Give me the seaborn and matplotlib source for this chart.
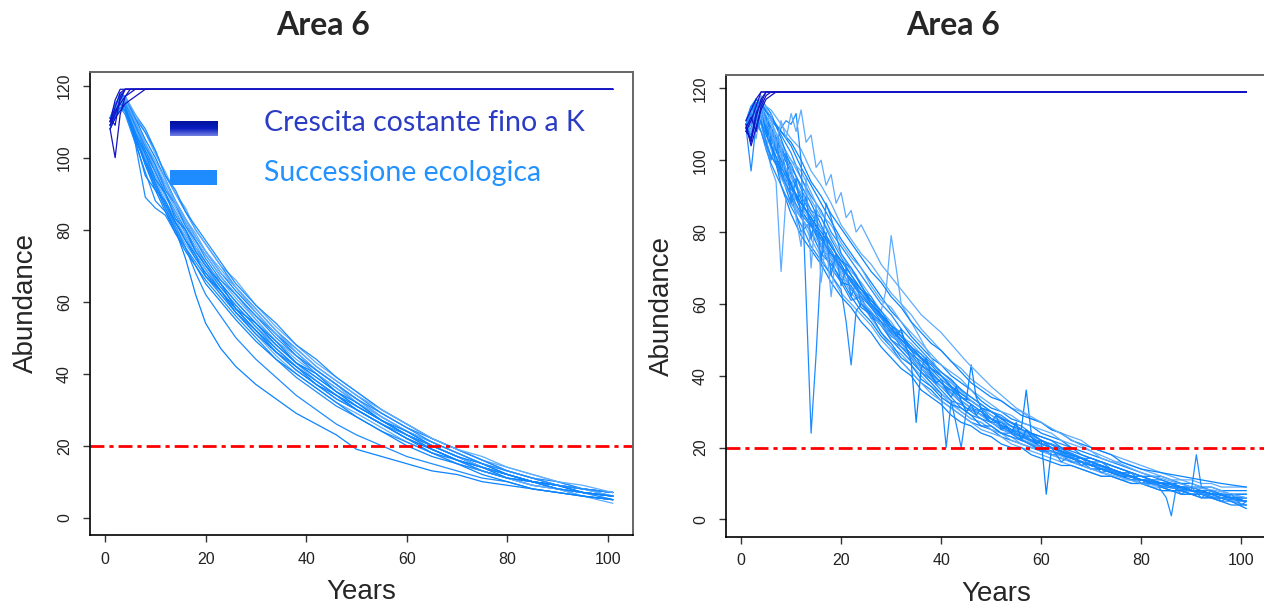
import numpy as np
import pandas as pd
import matplotlib
matplotlib.use('Agg')
from matplotlib import pyplot as plt
from matplotlib.patches import Rectangle
import seaborn as sns

# ---------------- data ----------------
TITLE = 'Area 6'
LEGEND_LABELS = ['Crescita costante fino a K', 'Successione ecologica']
K_LINE = 20
X_TICKS = [0, 20, 40, 60, 80, 100]
Y_TICKS = [0, 20, 40, 60, 80, 100, 120]

# constant growth up to K (dark blue), both panels
left_dark_years = [1, 2, 3, 4, 5, 6, 7, 8, 101]
left_dark = [
    [109, 112, 116, 119, 119, 119, 119, 119, 119],
    [108, 100, 112, 117, 119, 119, 119, 119, 119],
    [110, 114, 118, 119, 119, 119, 119, 119, 119],
    [109, 113, 115, 117, 118, 119, 119, 119, 119],
    [111, 109, 117, 119, 119, 119, 119, 119, 119],
    [108, 111, 113, 115, 116, 117, 118, 119, 119],
    [110, 116, 119, 119, 119, 119, 119, 119, 119],
]
right_dark_years = [1, 2, 3, 4, 5, 6, 7, 101]
right_dark = [
    [109, 105, 112, 117, 119, 119, 119, 119],
    [108, 111, 115, 119, 119, 119, 119, 119],
    [110, 104, 109, 114, 117, 118, 119, 119],
    [111, 114, 117, 119, 119, 119, 119, 119],
    [109, 112, 108, 115, 118, 119, 119, 119],
    [108, 106, 113, 116, 119, 119, 119, 119],
]

# ecological succession (light blue), left panel
left_years = [1, 2, 3, 4, 6, 8, 10, 12, 14, 16, 18, 20, 23, 26, 30, 34, 38, 42, 46, 50,
              55, 60, 65, 70, 75, 80, 85, 90, 95, 101]
left_runs = [
    [109, 112, 117, 116, 110, 104, 98, 92, 87, 82, 77, 73, 67, 62, 56, 50, 45, 40, 36, 32, 27, 23, 20, 17, 14, 12, 10, 9, 8, 7],
    [110, 114, 115, 113, 106, 98, 92, 86, 81, 76, 72, 68, 62, 57, 51, 45, 40, 36, 32, 29, 25, 21, 18, 15, 13, 11, 9, 8, 7, 5],
    [111, 113, 118, 117, 111, 105, 100, 94, 88, 83, 78, 74, 68, 63, 57, 51, 46, 41, 37, 33, 28, 24, 21, 18, 15, 12, 10, 9, 7, 6],
    [108, 111, 114, 112, 104, 96, 88, 85, 80, 75, 70, 66, 61, 56, 50, 44, 39, 35, 31, 28, 24, 21, 18, 15, 13, 11, 9, 8, 6, 5],
    [110, 114, 117, 116, 109, 102, 97, 91, 86, 81, 76, 71, 65, 60, 54, 48, 43, 39, 35, 31, 27, 23, 19, 16, 14, 12, 10, 8, 7, 6],
    [109, 112, 116, 115, 107, 99, 93, 87, 82, 78, 73, 69, 63, 58, 52, 46, 41, 37, 33, 30, 26, 22, 18, 16, 13, 11, 10, 8, 7, 6],
    [111, 115, 117, 117, 112, 108, 102, 95, 90, 85, 80, 76, 70, 64, 58, 52, 47, 42, 38, 34, 29, 25, 22, 19, 16, 13, 11, 9, 8, 7],
    [110, 113, 115, 114, 106, 100, 94, 88, 83, 78, 73, 69, 64, 59, 53, 48, 43, 38, 34, 30, 26, 22, 19, 16, 13, 11, 9, 8, 7, 6],
    [109, 112, 116, 114, 108, 102, 96, 90, 85, 80, 75, 71, 65, 60, 54, 48, 43, 39, 35, 31, 27, 23, 20, 17, 14, 12, 10, 9, 8, 6],
    [111, 114, 117, 115, 104, 89, 86, 84, 79, 75, 71, 67, 62, 57, 52, 46, 41, 37, 33, 30, 26, 22, 19, 16, 13, 11, 10, 8, 7, 5],
    [110, 113, 116, 116, 110, 103, 97, 92, 87, 82, 77, 73, 67, 62, 55, 49, 44, 40, 36, 32, 28, 24, 20, 17, 14, 12, 10, 8, 7, 6],
    [108, 112, 115, 113, 105, 99, 93, 87, 82, 77, 72, 68, 63, 58, 52, 47, 42, 38, 34, 31, 27, 23, 19, 16, 14, 12, 10, 9, 7, 6],
    [110, 114, 118, 116, 109, 101, 96, 90, 84, 79, 74, 70, 64, 59, 53, 47, 42, 38, 34, 30, 26, 23, 20, 17, 14, 12, 10, 9, 8, 7],
    [109, 111, 115, 114, 108, 103, 98, 93, 88, 83, 78, 74, 69, 64, 58, 52, 46, 41, 37, 33, 28, 24, 20, 17, 14, 11, 9, 8, 6, 4],
    [110, 112, 114, 113, 106, 99, 92, 86, 80, 72, 62, 54, 47, 42, 37, 33, 29, 26, 23, 19, 17, 15, 13, 12, 10, 9, 8, 7, 6, 5],
    [109, 113, 116, 114, 107, 100, 93, 87, 81, 75, 68, 62, 56, 50, 44, 39, 34, 30, 26, 23, 20, 17, 15, 13, 11, 10, 8, 7, 6, 5],
    [110, 113, 116, 117, 112, 107, 101, 96, 90, 86, 80, 76, 70, 66, 59, 53, 48, 43, 39, 35, 30, 26, 22, 19, 16, 14, 12, 10, 8, 7],
    [109, 111, 114, 113, 105, 95, 91, 85, 79, 74, 70, 65, 60, 55, 49, 44, 40, 36, 32, 28, 24, 20, 17, 15, 12, 10, 8, 7, 6, 5],
    [111, 114, 117, 116, 111, 107, 102, 95, 91, 85, 81, 77, 71, 65, 59, 54, 48, 44, 39, 35, 30, 26, 22, 19, 16, 13, 11, 10, 8, 7],
    [110, 112, 116, 115, 108, 100, 95, 89, 85, 79, 75, 70, 66, 61, 55, 49, 45, 41, 37, 32, 28, 24, 21, 18, 15, 13, 11, 9, 8, 6],
    [108, 113, 115, 114, 107, 101, 94, 90, 83, 80, 74, 70, 65, 58, 54, 49, 43, 40, 35, 32, 27, 24, 20, 17, 15, 12, 10, 9, 7, 6],
    [111, 112, 117, 115, 109, 103, 98, 91, 87, 81, 77, 72, 66, 62, 56, 51, 45, 41, 37, 33, 29, 25, 21, 18, 15, 13, 11, 9, 8, 7],
    [109, 114, 116, 116, 110, 104, 99, 94, 87, 83, 79, 74, 68, 64, 57, 51, 47, 42, 38, 34, 30, 26, 22, 19, 17, 14, 12, 10, 9, 7],
    [110, 113, 115, 113, 106, 98, 91, 88, 82, 77, 73, 67, 63, 57, 51, 46, 42, 37, 34, 30, 26, 22, 19, 16, 14, 11, 10, 8, 7, 6],
]

# ecological succession (light blue), right panel
right_years = [1, 2, 3, 4, 6, 8, 10, 12, 14, 16, 18, 20, 22, 24, 26, 28, 30, 32, 34, 36,
               38, 40, 42, 44, 46, 48, 50, 52, 54, 56, 58, 60, 62, 64, 66, 68, 70, 72, 74, 76,
               78, 80, 82, 84, 86, 88, 90, 92, 94, 96, 98, 101]
right_runs = [
    [109, 113, 116, 112, 106, 99, 94, 86, 82, 79, 73, 70, 64, 61, 57, 54, 52, 48, 45, 41, 39, 37, 34, 31, 29, 28, 26, 24, 24, 22, 21, 20, 18, 18, 17, 16, 15, 14, 13, 12, 12, 11, 10, 9, 9, 8, 8, 7, 7, 6, 6, 5],
    [110, 108, 112, 115, 110, 105, 100, 95, 89, 84, 79, 74, 69, 66, 62, 58, 55, 51, 49, 46, 42, 40, 38, 35, 33, 31, 29, 27, 25, 25, 23, 21, 20, 19, 18, 17, 16, 15, 14, 13, 12, 11, 11, 10, 9, 9, 8, 8, 7, 6, 6, 6],
    [108, 110, 115, 113, 104, 96, 88, 84, 80, 74, 71, 67, 62, 58, 55, 51, 48, 44, 41, 38, 36, 33, 31, 29, 27, 26, 25, 23, 22, 21, 20, 19, 18, 17, 16, 15, 14, 14, 13, 12, 11, 10, 10, 9, 8, 8, 7, 7, 6, 5, 5, 4],
    [111, 114, 117, 116, 112, 107, 102, 95, 90, 86, 80, 76, 72, 68, 64, 60, 57, 53, 50, 47, 44, 41, 39, 36, 34, 32, 30, 29, 27, 26, 24, 23, 22, 21, 20, 18, 17, 16, 15, 14, 13, 12, 11, 11, 10, 9, 9, 8, 8, 7, 7, 7],
    [109, 112, 113, 111, 107, 101, 91, 87, 83, 77, 73, 68, 63, 60, 56, 52, 48, 46, 43, 40, 37, 35, 33, 30, 28, 27, 25, 24, 23, 21, 20, 19, 18, 17, 16, 16, 15, 14, 13, 12, 11, 11, 10, 9, 9, 8, 7, 7, 6, 6, 5, 5],
    [110, 111, 114, 117, 113, 106, 98, 93, 88, 82, 76, 72, 70, 65, 61, 57, 53, 50, 47, 43, 41, 38, 36, 34, 32, 30, 28, 26, 25, 24, 22, 21, 20, 19, 18, 17, 16, 15, 14, 13, 12, 12, 11, 10, 10, 9, 8, 8, 7, 6, 6, 6],
    [109, 115, 116, 114, 109, 104, 97, 90, 85, 81, 77, 71, 66, 62, 59, 55, 51, 49, 46, 42, 39, 36, 33, 32, 30, 28, 27, 25, 24, 23, 22, 20, 19, 18, 17, 16, 15, 15, 14, 13, 12, 11, 10, 10, 9, 8, 8, 7, 7, 7, 6, 5],
    [110, 112, 114, 112, 103, 95, 90, 84, 78, 73, 68, 63, 60, 57, 54, 50, 47, 44, 41, 38, 35, 33, 31, 29, 27, 25, 24, 23, 21, 20, 19, 18, 17, 16, 15, 14, 13, 12, 12, 11, 10, 10, 9, 8, 8, 7, 7, 6, 6, 5, 5, 4],
    [111, 113, 115, 116, 111, 108, 104, 98, 93, 88, 83, 78, 74, 70, 66, 62, 58, 55, 51, 48, 45, 43, 40, 38, 36, 33, 31, 30, 28, 27, 26, 24, 23, 22, 20, 19, 18, 17, 16, 15, 14, 13, 12, 12, 11, 10, 10, 9, 9, 8, 8, 8],
    [108, 109, 113, 114, 108, 102, 93, 88, 84, 79, 75, 70, 67, 63, 59, 56, 52, 49, 46, 44, 41, 38, 35, 33, 31, 29, 28, 26, 25, 24, 23, 21, 21, 20, 18, 17, 17, 16, 15, 14, 13, 12, 11, 10, 10, 9, 9, 8, 7, 7, 6, 6],
    [110, 114, 116, 113, 107, 100, 95, 91, 86, 81, 74, 69, 65, 61, 58, 54, 50, 47, 44, 41, 38, 35, 32, 30, 28, 27, 25, 24, 22, 21, 20, 19, 18, 17, 16, 15, 14, 13, 12, 11, 11, 10, 9, 9, 8, 8, 7, 7, 6, 6, 5, 5],
    [109, 111, 114, 115, 109, 103, 96, 89, 83, 78, 74, 71, 66, 63, 60, 57, 53, 51, 48, 45, 43, 40, 37, 35, 33, 31, 30, 28, 27, 25, 24, 23, 22, 20, 19, 18, 17, 16, 15, 14, 13, 12, 12, 11, 10, 10, 9, 9, 8, 7, 7, 7],
    [110, 107, 113, 110, 101, 97, 90, 80, 83, 76, 70, 66, 61, 62, 56, 55, 50, 48, 46, 42, 40, 37, 36, 33, 31, 30, 27, 27, 25, 23, 23, 21, 20, 19, 17, 17, 15, 15, 13, 13, 12, 11, 11, 9, 9, 8, 8, 7, 7, 6, 6, 5],
    [111, 115, 112, 116, 114, 110, 106, 103, 97, 93, 88, 82, 78, 74, 71, 67, 63, 60, 57, 53, 50, 47, 44, 42, 39, 37, 35, 33, 31, 30, 28, 27, 25, 24, 23, 22, 20, 19, 18, 17, 16, 15, 14, 13, 12, 11, 11, 10, 10, 9, 9, 9],
    [109, 112, 110, 113, 105, 93, 85, 79, 75, 71, 66, 62, 59, 55, 52, 48, 45, 42, 40, 36, 34, 32, 29, 27, 26, 24, 23, 21, 20, 20, 18, 17, 16, 15, 15, 14, 13, 12, 12, 11, 10, 10, 9, 8, 8, 7, 7, 6, 6, 5, 4, 4],
    [110, 113, 117, 115, 108, 103, 99, 92, 86, 84, 78, 73, 68, 64, 62, 57, 54, 52, 47, 45, 42, 40, 37, 34, 33, 31, 28, 27, 26, 24, 22, 22, 21, 19, 18, 17, 16, 16, 14, 13, 13, 12, 11, 10, 10, 9, 8, 8, 7, 7, 6, 5],
    [108, 113, 114, 118, 111, 104, 100, 97, 91, 85, 82, 77, 73, 70, 65, 61, 59, 55, 52, 49, 46, 43, 41, 39, 36, 34, 32, 30, 29, 27, 26, 25, 24, 22, 21, 20, 19, 17, 16, 16, 15, 14, 13, 12, 11, 11, 10, 9, 9, 8, 7, 6],
    [109, 111, 116, 112, 106, 100, 93, 86, 82, 76, 72, 66, 65, 59, 57, 52, 49, 45, 43, 39, 37, 34, 32, 31, 29, 26, 26, 24, 23, 22, 21, 19, 19, 18, 16, 16, 14, 14, 13, 12, 11, 11, 10, 9, 8, 8, 7, 7, 6, 6, 5, 3],
]

# right panel runs with the visible spikes / dips, each on its own years
spike_years = [
    [1, 2, 3, 4, 5, 6, 7, 8, 9, 10, 11, 12, 13, 14, 15, 16, 17, 18, 20, 23, 26, 30, 35, 40, 45,
     50, 55, 60, 65, 70, 75, 80, 85, 90, 95, 101],
    [1, 2, 3, 4, 5, 6, 7, 8, 9, 10, 12, 14, 16, 18, 20, 22, 24, 26, 28, 29, 30, 31, 32, 34, 36,
     38, 40, 43, 46, 50, 55, 60, 65, 70, 75, 80, 85, 90, 95, 101],
    [1, 2, 3, 4, 5, 6, 8, 10, 12, 14, 16, 18, 20, 22, 24, 26, 28, 30, 32, 34, 36, 38, 40, 42, 44,
     45, 46, 47, 48, 50, 52, 54, 56, 57, 58, 60, 61, 62, 64, 66, 68, 70, 72, 74, 76, 78, 80, 82,
     84, 86, 88, 90, 92, 94, 96, 98, 101],
    [1, 2, 3, 4, 5, 6, 8, 10, 12, 14, 16, 18, 20, 21, 22, 23, 24, 26, 28, 30, 32, 34, 36, 38, 40,
     41, 42, 44, 45, 46, 48, 50, 53, 56, 59, 62, 65, 68, 71, 74, 77, 80, 83, 85, 86, 87, 89, 90,
     91, 92, 94, 96, 98, 101],
    [1, 2, 3, 4, 5, 6, 7, 8, 9, 10, 11, 12, 13, 14, 15, 16, 17, 18, 19, 20, 24, 28, 32, 36, 40,
     45, 50, 55, 60, 65, 70, 75, 80, 85, 90, 95, 101],
    [1, 2, 3, 4, 6, 8, 10, 12, 14, 16, 18, 20, 22, 24, 26, 28, 30, 32, 34, 36, 38, 40, 42, 44, 46,
     48, 50, 52, 54, 56, 58, 60, 62, 64, 66, 68, 70, 72, 74, 76, 78, 80, 84, 88, 92, 96, 101],
    [1, 2, 3, 4, 5, 6, 7, 8, 9, 10, 11, 12, 13, 14, 15, 16, 17, 18, 19, 20, 21, 22, 23, 24, 28,
     32, 36, 40, 45, 50, 55, 60, 65, 70, 75, 80, 85, 90, 95, 101],
    [1, 2, 3, 4, 5, 6, 7, 8, 9, 10, 11, 12, 13, 14, 15, 16, 17, 18, 19, 20, 21, 22, 23, 24, 28,
     32, 36, 40, 45, 50, 55, 60, 65, 70, 75, 80, 85, 90, 95, 101],
    [1, 3, 5, 8, 12, 16, 20, 24, 28, 29, 30, 31, 32, 33, 34, 35, 36, 37, 38, 39, 40, 41, 42, 43,
     44, 45, 46, 47, 48, 49, 50, 51, 52, 53, 54, 55, 56, 57, 58, 59, 60, 62, 64, 68, 72, 76, 80,
     85, 90, 95, 101],
    [1, 3, 5, 8, 12, 16, 20, 25, 30, 35, 40, 45, 50, 55, 60, 62, 64, 66, 68, 70, 72, 74, 76, 78,
     80, 82, 84, 86, 88, 90, 92, 94, 96, 98, 100, 101],
]
spike_runs = [
    [109, 111, 115, 113, 110, 107, 104, 109, 111, 110, 113, 100, 62, 24, 46, 72, 88, 84, 74, 68,
     60, 53, 44, 38, 31, 28, 24, 21, 18, 15, 13, 11, 10, 8, 7, 5],
    [110, 108, 112, 110, 104, 98, 94, 69, 90, 88, 84, 80, 76, 72, 70, 67, 63, 60, 58, 64, 79, 70,
     60, 55, 50, 45, 40, 37, 33, 29, 25, 22, 19, 16, 13, 11, 9, 8, 7, 6],
    [110, 106, 111, 113, 108, 104, 97, 92, 88, 84, 79, 74, 70, 67, 64, 60, 57, 54, 51, 48, 45, 42,
     40, 37, 34, 33, 43, 34, 31, 30, 28, 26, 25, 36, 24, 22, 7, 19, 18, 17, 16, 15, 14, 13, 12,
     12, 11, 10, 10, 9, 9, 8, 8, 7, 7, 6, 6],
    [109, 97, 110, 108, 103, 99, 93, 87, 82, 76, 72, 68, 64, 55, 43, 58, 60, 57, 54, 50, 47, 44,
     41, 38, 35, 20, 33, 20, 30, 31, 29, 27, 25, 23, 21, 19, 18, 16, 15, 14, 12, 11, 10, 6, 1, 9,
     9, 8, 18, 9, 8, 7, 6, 5],
    [108, 112, 106, 114, 103, 109, 100, 104, 92, 99, 84, 76, 95, 70, 88, 66, 78, 62, 74, 68, 61,
     54, 49, 42, 37, 32, 27, 23, 20, 17, 14, 12, 10, 9, 8, 6, 5],
    [111, 115, 117, 115, 112, 108, 105, 100, 94, 90, 85, 81, 77, 73, 69, 66, 62, 59, 55, 52, 49,
     47, 44, 41, 38, 36, 34, 33, 31, 29, 28, 27, 25, 24, 22, 21, 20, 19, 18, 16, 15, 14, 13, 12,
     11, 10, 9],
    [110, 113, 108, 111, 105, 100, 106, 97, 102, 88, 95, 84, 90, 78, 86, 72, 80, 68, 74, 65, 70,
     62, 66, 60, 55, 50, 46, 41, 35, 30, 26, 22, 19, 16, 13, 11, 9, 8, 6, 5],
    [111, 114, 112, 116, 110, 113, 104, 111, 106, 113, 108, 114, 105, 107, 98, 100, 93, 96, 88, 91,
     84, 86, 80, 82, 71, 64, 57, 52, 44, 37, 31, 27, 23, 19, 16, 13, 11, 9, 8, 6],
    [109, 114, 107, 98, 88, 80, 72, 64, 58, 56, 54, 51, 53, 48, 44, 27, 42, 45, 40, 38, 39, 36, 34,
     37, 33, 30, 32, 29, 31, 28, 27, 29, 25, 26, 24, 27, 22, 25, 23, 21, 22, 20, 19, 17, 15, 13,
     11, 10, 8, 7, 5],
    [110, 112, 104, 96, 85, 78, 70, 61, 53, 46, 39, 33, 28, 23, 19, 20, 16, 18, 15, 16, 13, 14, 12,
     13, 10, 11, 9, 10, 7, 9, 6, 8, 5, 7, 4, 5],
]

DARK = '#1414c4'
LIGHTS = ['#1e8cff', '#5eacff', '#0a84ff']
LEGEND_TEXT_COLORS = ['#2b3cc4', '#2392ff']


def to_long(years_per_run, runs, prefix):
    rows = []
    for i, (yrs, vals) in enumerate(zip(years_per_run, runs)):
        assert len(yrs) == len(vals), (prefix, i, len(yrs), len(vals))
        rows += [(f'{prefix}{i}', y, v) for y, v in zip(yrs, vals)]
    return pd.DataFrame(rows, columns=['run', 'year', 'abundance'])


def draw_runs(ax, df, colors, lw=0.9):
    names = list(df['run'].unique())
    pal = {n: colors[i % len(colors)] for i, n in enumerate(names)}
    sns.lineplot(data=df, x='year', y='abundance', hue='run', units='run',
                 estimator=None, palette=pal, legend=False, lw=lw, ax=ax, sort=False)


sns.set_style('white')
plt.rcParams['font.family'] = ['Liberation Sans', 'DejaVu Sans']

fig = plt.figure(figsize=(12.64, 6.08), dpi=100)
ax_l = fig.add_axes([0.0712, 0.1201, 0.4296, 0.7615])
ax_r = fig.add_axes([0.5744, 0.1174, 0.4275, 0.7597])

left_light = to_long([left_years] * len(left_runs), left_runs, 'L')
right_light = pd.concat([
    to_long([right_years] * len(right_runs), right_runs, 'R'),
    to_long(spike_years, spike_runs, 'S'),
])
left_k = to_long([left_dark_years] * len(left_dark), left_dark, 'LD')
right_k = to_long([right_dark_years] * len(right_dark), right_dark, 'RD')

for ax, light, dark in [(ax_l, left_light, left_k), (ax_r, right_light, right_k)]:
    draw_runs(ax, light, LIGHTS)
    draw_runs(ax, dark, [DARK])
    ax.axhline(K_LINE, color='red', lw=2, ls=(0, (5, 1.8, 1.5, 1.8)))
    ax.set_xlim(-3, 105)
    ax.set_ylim(-4.8, 123.8)
    ax.set_xticks(X_TICKS)
    ax.set_yticks(Y_TICKS)
    ax.tick_params(axis='both', direction='out', length=5, width=1, color='#333333',
                   labelsize=11.5, labelcolor='#222222', left=True, bottom=True)
    ax.tick_params(axis='x', pad=7)
    ax.tick_params(axis='y', pad=8)
    for lab in ax.get_yticklabels():
        lab.set_rotation(90)
        lab.set_va('center')
    ax.set_xlabel('Years', fontsize=20, labelpad=9)
    ax.set_ylabel('Abundance', fontsize=20, labelpad=13)
    for side in ['left', 'bottom']:
        ax.spines[side].set_color('black')
        ax.spines[side].set_linewidth(1.2)
    for side in ['top', 'right']:
        ax.spines[side].set_color('#666666')
        ax.spines[side].set_linewidth(1.4)

# legend drawn by hand, as in the original
grad = np.linspace(0, 1, 16).reshape(-1, 1)
ax_l.imshow(grad, cmap=matplotlib.colors.LinearSegmentedColormap.from_list(
    'g', ['#00129e', '#0a1ec0', '#6f7ce0']), extent=(0.1465, 0.2345, 0.862, 0.894),
    transform=ax_l.transAxes, aspect='auto', zorder=5)
ax_l.add_patch(Rectangle((0.1465, 0.755), 0.088, 0.034, transform=ax_l.transAxes,
                         color='#1e8cff', lw=0, zorder=5))
ax_l.set_xlim(-3, 105)
ax_l.set_ylim(-4.8, 123.8)
for label, col, y in zip(LEGEND_LABELS, LEGEND_TEXT_COLORS, [0.89, 0.782]):
    ax_l.text(0.321, y, label, transform=ax_l.transAxes, color=col, fontsize=20.5,
              family=['Lato', 'DejaVu Sans'], va='center', ha='left')

for x in [0.2555, 0.754]:
    fig.text(x, 0.958, TITLE, ha='center', va='center', fontsize=23, fontweight='bold',
             family=['Lato', 'DejaVu Sans'])

fig.savefig('out.png', dpi=100)
